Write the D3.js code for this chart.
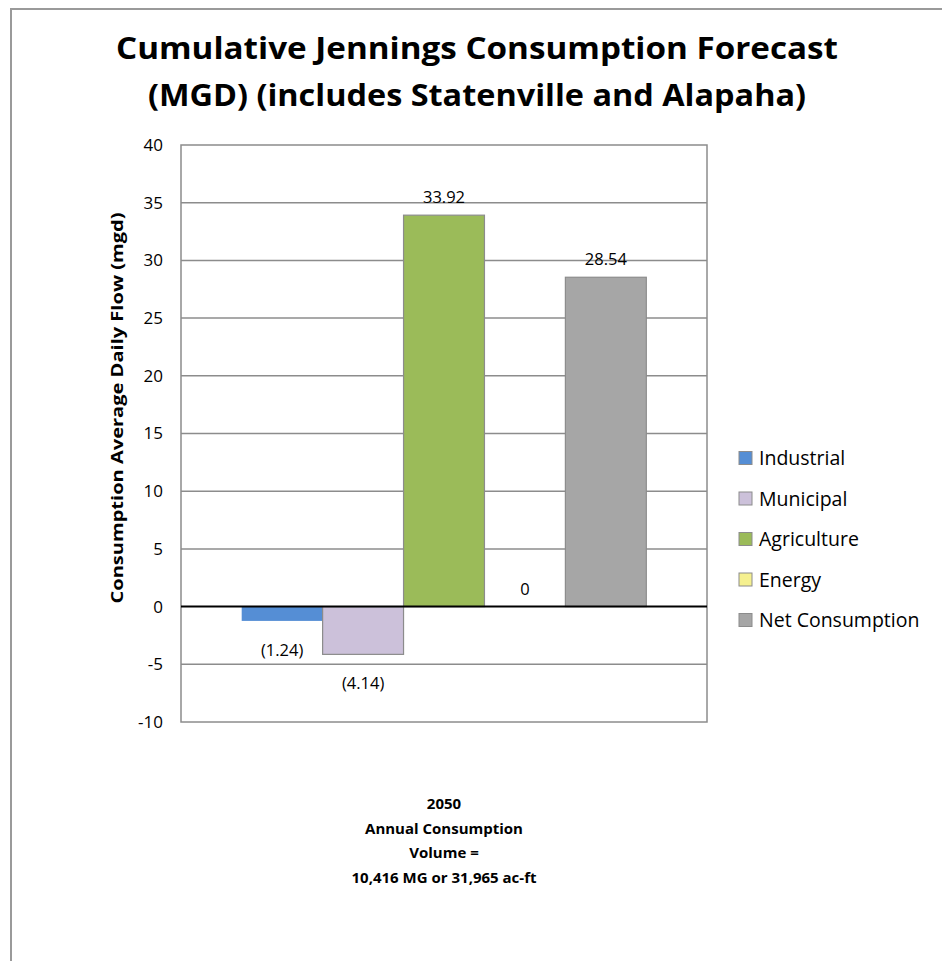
<!DOCTYPE html>
<html>
<head>
<meta charset="utf-8">
<script src="https://cdn.jsdelivr.net/npm/d3@7"></script>
<style>
  body { margin: 0; background: #fff; }
  svg { display: block; font-family: "Open Sans", Lato, sans-serif; }
</style>
</head>
<body>
<div id="chart"></div>
<script>
"use strict";

// data
var series = ["Industrial", "Municipal", "Agriculture", "Energy", "Net Consumption"];
var values = [-1.24, -4.14, 33.92, 0, 28.54];
var labels = ["(1.24)", "(4.14)", "33.92", "0", "28.54"];
var colors = ["#558ed5", "#ccc1da", "#9bbb59", "#f5f08f", "#a6a6a6"];
var categories = ["2050"];
var categoryLines = ["2050", "Annual Consumption", "Volume =", "10,416 MG or 31,965 ac-ft"];
var yTicks = [-10, -5, 0, 5, 10, 15, 20, 25, 30, 35, 40];
var titleLines = ["Cumulative Jennings Consumption Forecast", "(MGD) (includes Statenville and Alapaha)"];
var yTitle = "Consumption Average Daily Flow (mgd)";

var width = 942, height = 961;
var plot = { left: 181, right: 707, top: 145, bottom: 722 };

var svg = d3.select('#chart').append('svg')
  .attr('width', width)
  .attr('height', height);

// outer frame (only top and left edges show)
svg.append('path')
  .attr('d', 'M11,' + height + 'V9H' + width)
  .attr('fill', 'none')
  .attr('stroke', '#9a9a9a')
  .attr('stroke-width', 2);

// title
svg.append('g').selectAll('text')
  .data(titleLines).enter()
  .append('text')
  .attr('x', 477)
  .attr('y', function(d, i) { return 59 + i * 47; })
  .attr('text-anchor', 'middle')
  .attr('font-weight', 'bold')
  .attr('font-size', 31)
  .attr('textLength', function(d, i) { return i === 0 ? 722 : 658; })
  .attr('lengthAdjust', 'spacingAndGlyphs')
  .attr('fill', '#000')
  .text(function(d) { return d; });

var y = d3.scaleLinear().domain([-10, 40]).range([plot.bottom, plot.top]);
var x0 = d3.scaleBand().domain(categories).range([plot.left, plot.right]);
var x1 = d3.scaleBand().domain(series).range([0, x0.bandwidth()])
  .paddingInner(0).paddingOuter(0.75);

// gridlines
svg.append('g').selectAll('line')
  .data(yTicks.filter(function(d) { return d !== 0 && d !== -10 && d !== 40; })).enter()
  .append('line')
  .attr('x1', plot.left).attr('x2', plot.right)
  .attr('y1', function(d) { return y(d); })
  .attr('y2', function(d) { return y(d); })
  .attr('stroke', '#8c8c8c')
  .attr('stroke-width', 1.5);

// plot border
svg.append('rect')
  .attr('x', plot.left).attr('y', plot.top)
  .attr('width', plot.right - plot.left)
  .attr('height', plot.bottom - plot.top)
  .attr('fill', 'none')
  .attr('stroke', '#8c8c8c')
  .attr('stroke-width', 1.5);

// y axis
var yAxis = svg.append('g')
  .attr('transform', 'translate(' + plot.left + ',0)')
  .call(d3.axisLeft(y).tickValues(yTicks).tickSize(0).tickPadding(18)
    .tickFormat(function(d) { return String(d); }));
yAxis.select('.domain').remove();
yAxis.selectAll('text')
  .attr('font-family', '"Open Sans", Lato, sans-serif')
  .attr('font-size', 17)
  .attr('fill', '#000');

// bars
var group = svg.append('g').selectAll('g')
  .data(categories).enter()
  .append('g')
  .attr('transform', function(d) { return 'translate(' + x0(d) + ',0)'; });

var bars = group.selectAll('rect')
  .data(series.map(function(s, i) { return { name: s, value: values[i], label: labels[i], color: colors[i] }; }))
  .enter();

bars.append('rect')
  .attr('x', function(d) { return x1(d.name); })
  .attr('y', function(d) { return y(Math.max(0, d.value)); })
  .attr('width', x1.bandwidth())
  .attr('height', function(d) { return Math.abs(y(d.value) - y(0)); })
  .attr('fill', function(d) { return d.color; })
  .attr('stroke', function(d) { return d.value === 0 ? 'none' : '#8c8c8c'; })
  .attr('stroke-width', function(d) { return d.name === 'Industrial' ? 0 : 1.2; });

// data labels
bars.append('text')
  .attr('x', function(d) { return x1(d.name) + x1.bandwidth() / 2; })
  .attr('y', function(d) {
    if (d.value < 0) return y(d.value) + 35;
    return y(d.value) - 12;
  })
  .attr('text-anchor', 'middle')
  .attr('font-size', 16.5)
  .attr('fill', '#000')
  .text(function(d) { return d.label; });

// zero line
svg.append('line')
  .attr('x1', plot.left).attr('x2', plot.right)
  .attr('y1', y(0)).attr('y2', y(0))
  .attr('stroke', '#000')
  .attr('stroke-width', 2);

// category label
svg.append('g').selectAll('text')
  .data(categoryLines).enter()
  .append('text')
  .attr('x', x0(categories[0]) + x0.bandwidth() / 2)
  .attr('y', function(d, i) { return 809 + i * 24.5; })
  .attr('text-anchor', 'middle')
  .attr('font-weight', 'bold')
  .attr('font-size', 15)
  .text(function(d) { return d; });

// y title
svg.append('text')
  .attr('transform', 'translate(123,408) rotate(-90)')
  .attr('text-anchor', 'middle')
  .attr('font-weight', 'bold')
  .attr('font-size', 16)
  .attr('textLength', 391)
  .attr('lengthAdjust', 'spacingAndGlyphs')
  .text(yTitle);

// legend
var legend = svg.append('g').selectAll('g')
  .data(series).enter()
  .append('g')
  .attr('transform', function(d, i) { return 'translate(739,' + (458 + i * 40.5) + ')'; });
legend.append('rect')
  .attr('x', 0).attr('y', -6.5)
  .attr('width', 13).attr('height', 13)
  .attr('fill', function(d, i) { return colors[i]; })
  .attr('stroke', '#8c8c8c')
  .attr('stroke-width', 1);
legend.append('text')
  .attr('x', 20).attr('y', 7)
  .attr('font-size', 19.5)
  .text(function(d) { return d; });
</script>
</body>
</html>
